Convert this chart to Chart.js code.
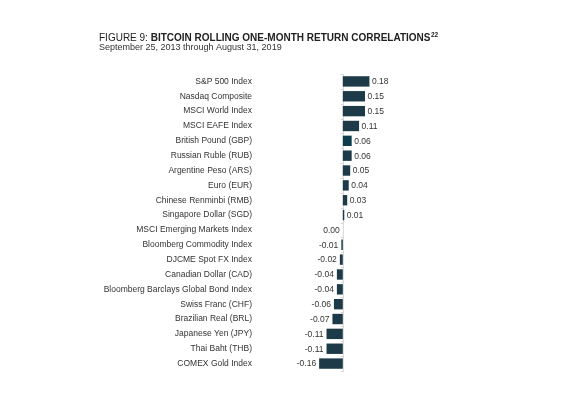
<!DOCTYPE html>
<html>
<head>
<meta charset="utf-8">
<script src="https://cdn.jsdelivr.net/npm/chart.js@4.4.0/dist/chart.umd.min.js"></script>
<style>
    body { margin: 0; background: #fff; }
</style>
</head>
<body>
<canvas id="grafico" width="577" height="396"></canvas>
<script>
const categorias = [
    "S&P 500 Index", "Nasdaq Composite", "MSCI World Index", "MSCI EAFE Index",
    "British Pound (GBP)", "Russian Ruble (RUB)", "Argentine Peso (ARS)", "Euro (EUR)",
    "Chinese Renminbi (RMB)", "Singapore Dollar (SGD)", "MSCI Emerging Markets Index",
    "Bloomberg Commodity Index", "DJCME Spot FX Index", "Canadian Dollar (CAD)",
    "Bloomberg Barclays Global Bond Index", "Swiss Franc (CHF)", "Brazilian Real (BRL)",
    "Japanese Yen (JPY)", "Thai Baht (THB)", "COMEX Gold Index"
];
const correlacoes = [0.18, 0.15, 0.15, 0.11, 0.06, 0.06, 0.05, 0.04, 0.03, 0.01,
    0.00, -0.01, -0.02, -0.04, -0.04, -0.06, -0.07, -0.11, -0.11, -0.16];

const familia = "'Liberation Sans', Arial, sans-serif";

// titulo com partes normal / negrito / sobrescrito
const titulo = {
    id: "titulo",
    afterDraw(chart) {
        const ctx = chart.ctx;
        var x = 99;
        ctx.save();
        ctx.textAlign = "left";
        ctx.textBaseline = "alphabetic";
        ctx.fillStyle = "#222";
        ctx.font = "10px " + familia;
        ctx.fillText("FIGURE 9: ", x, 40.5);
        x += ctx.measureText("FIGURE 9: ").width;
        ctx.font = "bold 10px " + familia;
        ctx.fillText("BITCOIN ROLLING ONE-MONTH RETURN CORRELATIONS", x, 40.5);
        x += ctx.measureText("BITCOIN ROLLING ONE-MONTH RETURN CORRELATIONS").width + 0.5;
        ctx.font = "bold 6.5px " + familia;
        ctx.fillText("22", x, 37);
        ctx.fillStyle = "#333";
        ctx.font = "9px " + familia;
        ctx.fillText("September 25, 2013 through August 31, 2019", 99, 49.5);
        ctx.restore();
    }
};

// linha do zero e tracinhos entre as categorias
const linhaZero = {
    id: "linhaZero",
    beforeDatasetsDraw(chart) {
        const ctx = chart.ctx;
        const area = chart.chartArea;
        const x0 = chart.scales.x.getPixelForValue(0);
        const y = chart.scales.y;
        ctx.save();
        ctx.strokeStyle = "#d6d6d6";
        ctx.lineWidth = 1;
        ctx.beginPath();
        ctx.moveTo(x0 + 0.5, area.top);
        ctx.lineTo(x0 + 0.5, area.bottom);
        for (var i = 0; i <= categorias.length; i++) {
            var py = Math.round(y.getPixelForValue(i - 0.5)) + 0.5;
            ctx.moveTo(x0 - 2, py);
            ctx.lineTo(x0 + 1, py);
        }
        ctx.stroke();
        ctx.restore();
    }
};

// valores escritos ao lado de cada barra
const rotulosValores = {
    id: "rotulosValores",
    afterDatasetsDraw(chart) {
        const ctx = chart.ctx;
        const barras = chart.getDatasetMeta(0).data;
        ctx.save();
        ctx.font = "8.5px " + familia;
        ctx.fillStyle = "#333";
        ctx.textBaseline = "middle";
        barras.forEach(function (barra, i) {
            var valor = correlacoes[i];
            var texto = valor.toFixed(2);
            if (valor > 0) {
                ctx.textAlign = "left";
                ctx.fillText(texto, barra.x + 2.5, barra.y + 0.5);
            } else {
                ctx.textAlign = "right";
                ctx.fillText(texto, Math.min(barra.x, barra.base) - 3, barra.y + 0.5);
            }
        });
        ctx.restore();
    }
};

var ctx = document.getElementById("grafico").getContext("2d");
var myChart = new Chart(ctx, {
    type: "bar",
    data: {
        labels: categorias,
        datasets: [
            {
                data: correlacoes,
                backgroundColor: function (c) {
                    return c.dataIndex === 4 ? "#0e3e4b" : "#1c3a48";
                },
                borderWidth: 0,
                categoryPercentage: 1,
                barPercentage: 0.7
            }
        ]
    },
    options: {
        indexAxis: "y",
        responsive: false,
        animation: false,
        layout: {
            padding: { left: 0, right: 175, top: 74, bottom: 25 }
        },
        plugins: {
            legend: { display: false },
            tooltip: { enabled: false }
        },
        scales: {
            x: {
                display: false,
                min: -0.6,
                max: 0.4
            },
            y: {
                afterFit: function (scale) { scale.width = 254; },
                grid: { display: false, drawTicks: false },
                border: { display: false },
                ticks: {
                    padding: 2,
                    color: "#333",
                    font: { family: familia, size: 8.5 },
                    autoSkip: false
                }
            }
        }
    },
    plugins: [linhaZero, rotulosValores, titulo]
});
</script>
</body>
</html>
